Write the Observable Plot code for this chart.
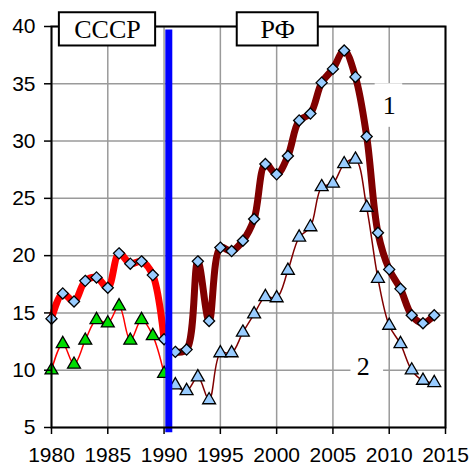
<!DOCTYPE html>
<html><head><meta charset="utf-8">
<script src="https://cdn.jsdelivr.net/npm/d3@7"></script>
<script src="https://cdn.jsdelivr.net/npm/@observablehq/plot@0.6"></script>
<style>body{margin:0;background:#fff;}</style>
</head><body><div id="chart"></div>
<script>
// ---- data ----
const yearsUSSR = [1980,1981,1982,1983,1984,1985,1986,1987,1988,1989,1990];
const s1USSR = [14.5,16.7,16.0,17.8,18.1,17.2,20.2,19.3,19.5,18.3,12.7];
const s2USSR = [10.0,12.3,10.5,12.6,14.4,14.1,15.6,12.6,14.4,13.0,9.7];
const yearsRF = [1991,1992,1993,1994,1995,1996,1997,1998,1999,2000,2001,2002,2003,2004,2005,2006,2007,2008,2009,2010,2011,2012,2013,2014];
const s1RF = [11.6,11.8,19.5,14.3,20.7,20.4,21.3,23.2,28.0,27.1,28.7,31.8,32.4,35.1,36.3,37.9,35.6,30.4,22.0,18.8,17.1,14.8,14.1,14.8];
const s2RF = [8.7,8.2,9.4,7.4,11.5,11.5,13.3,14.9,16.4,16.3,18.7,21.6,22.5,26.0,26.3,28.0,28.4,24.2,18.0,13.9,12.3,10.0,9.1,8.9];
const xTicks = [1980,1985,1990,1995,2000,2005,2010,2015];
const yTicks = [5,10,15,20,25,30,35,40];
const periodLabels = ["СССР","РФ"];
const seriesLabels = ["1","2"];

// ---- tables ----
const ussr = yearsUSSR.map((x,i)=>({x, a:s1USSR[i], b:s2USSR[i]}));
const rf = yearsRF.map((x,i)=>({x, a:s1RF[i], b:s2RF[i]}));

// annotation placement (data coordinates)
const periodBoxes = [
  {t:periodLabels[0], x1:1980.7, x2:1989.25, y1:38.3, y2:41.2},
  {t:periodLabels[1], x1:1996.5, x2:2003.7, y1:38.3, y2:41.2}
];
const seriesBoxes = [
  {t:seriesLabels[0], x:2010.0, y:33.1, x1:2008.75, x2:2011.2, y1:31.2, y2:35.0},
  {t:seriesLabels[1], x:2007.7, y:10.3, x1:2006.6, x2:2009.5, y1:9.5, y2:11.1}
];
const breakYear = 1990.42;

const grid = {stroke:"#9a9a9a", strokeOpacity:1, strokeWidth:1.5};
const diamond = {symbol:"diamond2", r:5.0, fill:"#99ccff", stroke:"black", strokeWidth:1.3};
const tri = {symbol:"triangle", r:4.8, stroke:"black", strokeWidth:1.3};

const chart = Plot.plot({
  width:470, height:466,
  marginLeft:51, marginRight:25, marginTop:26, marginBottom:39,
  x:{domain:[1980,2015], axis:null},
  y:{domain:[5,40], axis:null},
  style:{fontFamily:"'Liberation Sans', Arial, sans-serif", fontSize:"21px", color:"black", background:"white"},
  marks:[
    Plot.gridX(xTicks, grid),
    Plot.gridY(yTicks, grid),
    Plot.rect(seriesBoxes, {x1:"x1", x2:"x2", y1:"y1", y2:"y2", fill:"white"}),
    Plot.text(seriesBoxes, {x:"x", y:"y", text:"t", fontFamily:"'Liberation Serif', 'Times New Roman', serif", fontSize:26, fill:"black"}),
    Plot.line(ussr, {x:"x", y:"a", stroke:"#ff0000", strokeWidth:7, curve:"catmull-rom"}),
    Plot.line(rf, {x:"x", y:"a", stroke:"#800000", strokeWidth:7, curve:"catmull-rom"}),
    Plot.line(ussr, {x:"x", y:"b", stroke:"#ff0000", strokeWidth:1.5, curve:"catmull-rom"}),
    Plot.line(rf, {x:"x", y:"b", stroke:"#800000", strokeWidth:1.5, curve:"catmull-rom"}),
    Plot.dot(ussr, {x:"x", y:"a", ...diamond}),
    Plot.dot(rf, {x:"x", y:"a", ...diamond}),
    Plot.dot(ussr, {x:"x", y:"b", ...tri, fill:"#00dd00"}),
    Plot.dot(rf, {x:"x", y:"b", ...tri, fill:"#99ccff"}),
    Plot.ruleX([breakYear], {y1:4.55, y2:39.7, stroke:"#0000ff", strokeWidth:7}),
    Plot.axisX(xTicks, {tickSize:7, tickPadding:13, tickFormat:"d", stroke:"black", strokeWidth:1.5, label:null}),
    Plot.axisY(yTicks, {tickSize:7, tickPadding:9, stroke:"black", strokeWidth:1.5, label:null}),
    Plot.frame({stroke:"black", strokeWidth:2}),
    Plot.rect(periodBoxes, {x1:"x1", x2:"x2", y1:"y1", y2:"y2", fill:"white", stroke:"black", strokeWidth:2}),
    Plot.text(periodBoxes, {x:d=>(d.x1+d.x2)/2, y:d=>(d.y1+d.y2)/2, text:"t", fontFamily:"'Liberation Serif', 'Times New Roman', serif", fontSize:26, fill:"black"})
  ]
});
document.getElementById("chart").appendChild(chart);
</script>
</body></html>
